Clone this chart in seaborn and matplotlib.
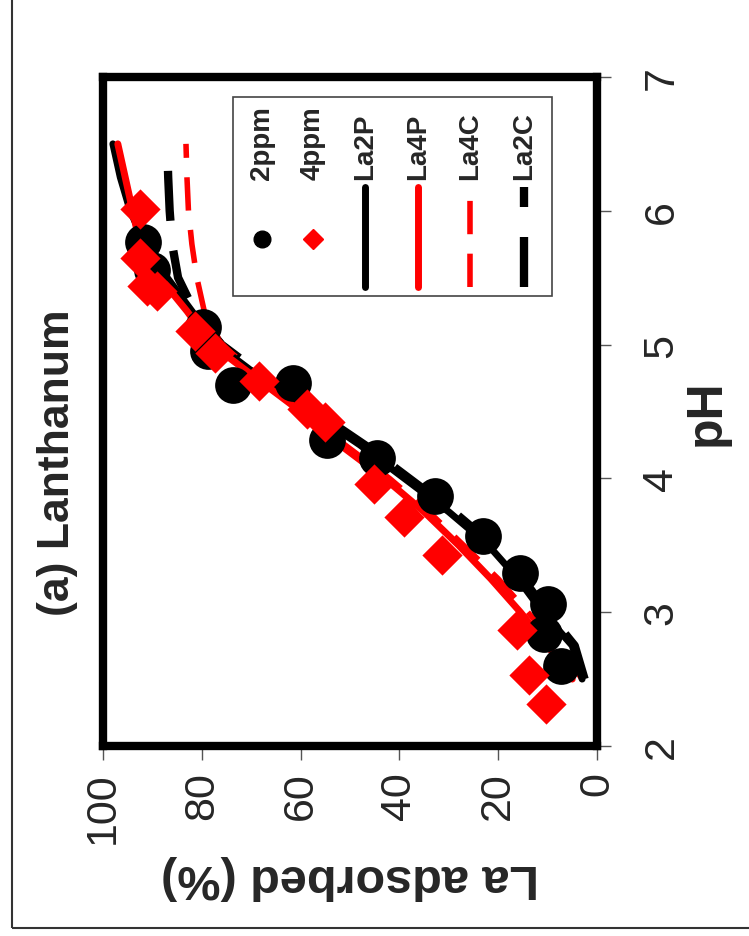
import numpy as np
import pandas as pd
import matplotlib.pyplot as plt
import seaborn as sns
from matplotlib.patches import Rectangle

# measured points (pH, % La adsorbed)
ph_2ppm = [2.60, 2.84, 3.06, 3.29, 3.57, 3.87, 4.15, 4.29, 4.70, 4.71, 4.95, 5.13, 5.56, 5.77]
ads_2ppm = [7.3, 10.8, 10.0, 15.6, 23.0, 32.7, 44.5, 54.6, 73.7, 61.5, 78.7, 79.7, 90.1, 91.9]

ph_4ppm = [2.31, 2.53, 2.87, 3.43, 3.71, 3.96, 4.42, 4.52, 4.73, 4.94, 5.10, 5.40, 5.44, 5.65, 6.01]
ads_4ppm = [10.3, 13.7, 16.1, 31.3, 39.1, 45.2, 55.0, 58.7, 68.5, 77.3, 81.3, 89.0, 91.1, 92.6, 92.6]

# model curves
ph_fit = [2.5, 2.75, 3.0, 3.25, 3.5, 3.75, 4.0, 4.25, 4.5, 4.75, 5.0, 5.25, 5.5, 5.75, 6.0, 6.25, 6.5]
la2p = [3, 5, 11, 16, 22, 30, 39, 48, 58, 68, 77, 82, 87, 91.5, 94.5, 96.5, 98]
la4p = [5, 10, 15.5, 21.5, 28, 35, 43, 52, 60, 69, 78, 83, 88.5, 92.5, 94, 95.5, 97]
la4c = [3, 8, 14, 20, 27, 34, 42, 51, 60, 68, 76, 79.5, 81, 82, 82.7, 83, 83.2]
la2c = [2.5, 4.5, 10, 15, 21, 29, 38, 47, 57, 67, 76, 81.5, 84.8, 86, 86.5, 86.8, 87]

x_ticks = [0, 20, 40, 60, 80, 100]
y_ticks = [2, 3, 4, 5, 6, 7]

sns.set_style('white')
plt.rcParams['font.family'] = ['Liberation Sans', 'DejaVu Sans']

RED = '#ff0000'
styles = {
    'La2P': dict(color='black', lw=5, linestyle='-', solid_capstyle='round'),
    'La4P': dict(color=RED, lw=5, linestyle='-', solid_capstyle='round'),
    'La4C': dict(color=RED, lw=4, linestyle=(0, (6, 3.5))),
    'La2C': dict(color='black', lw=6, linestyle=(0, (6, 3.6))),
}
curves = {'La2P': la2p, 'La4P': la4p, 'La4C': la4c, 'La2C': la2c}

fig = plt.figure(figsize=(7.49, 9.37), dpi=100)
ax = fig.add_axes([0.1375, 0.2028, 0.6595, 0.714])

# the whole chart is turned on its side: x = adsorbed (reversed), y = pH
for name in ['La2C', 'La4C', 'La2P', 'La4P']:
    sns.lineplot(x=curves[name], y=ph_fit, orient='y', ax=ax, zorder=2, **styles[name])

sns.scatterplot(x=ads_2ppm, y=ph_2ppm, marker='o', s=700, color='black', linewidth=0, ax=ax, zorder=3)
sns.scatterplot(x=ads_4ppm, y=ph_4ppm, marker='D', s=420, color=RED, linewidth=0, ax=ax, zorder=4)

ax.set_xlim(100, 0)
ax.set_ylim(2, 7)
ax.set_xticks(x_ticks)
ax.set_yticks(y_ticks)
ax.yaxis.tick_right()
ax.yaxis.set_label_position('right')
ax.tick_params(axis='x', bottom=True, direction='out', length=10, width=1, color='#555',
               labelsize=31, pad=8, labelrotation=90)
ax.tick_params(axis='y', left=False, right=True, labelleft=False, labelright=True, direction='out',
               length=10, width=1, color='#555', labelsize=31, pad=22, labelrotation=90)
for t in ax.get_yticklabels():
    t.set_va('center')
for s in ax.spines.values():
    s.set_linewidth(6)
    s.set_color('black')
    s.set_visible(True)

ax.set_xlabel('La adsorbed (%)', fontsize=35, fontweight='bold', rotation=180, labelpad=8)
ax.set_ylabel('pH', fontsize=36, fontweight='bold', rotation=90, labelpad=2)

fig.text(0.077, 0.506, '(a) Lanthanum', rotation=90, ha='center', va='center',
         fontsize=32, fontweight='bold')

# legend (drawn by hand, rotated like the rest)
box = Rectangle((0.263, 0.6726), 0.646, 0.2974, transform=ax.transAxes,
                facecolor='white', edgecolor='#444', lw=1.2, zorder=5)
ax.add_patch(box)
leg_names = ['2ppm', '4ppm', 'La2P', 'La4P', 'La4C', 'La2C']
leg_x = [0.321, 0.425, 0.530, 0.638, 0.744, 0.852]
for name, cx in zip(leg_names, leg_x):
    ax.text(cx, 0.8475, name, rotation=90, ha='center', va='bottom', fontsize=20,
            fontweight='bold', transform=ax.transAxes, zorder=6)
    if name == '2ppm':
        ax.plot([cx], [0.758], marker='o', ms=12, color='black', ls='none',
                transform=ax.transAxes, zorder=6)
    elif name == '4ppm':
        ax.plot([cx], [0.758], marker='D', ms=10, color=RED, ls='none',
                transform=ax.transAxes, zorder=6)
    else:
        ax.plot([cx, cx], [0.686, 0.8356], transform=ax.transAxes, zorder=6, **styles[name])

fig.patches.append(Rectangle((12 / 749, 1 - 929 / 937), 2, 2, transform=fig.transFigure,
                             fill=False, lw=1.5, ec='#333'))

fig.savefig('out.png', dpi=100)
